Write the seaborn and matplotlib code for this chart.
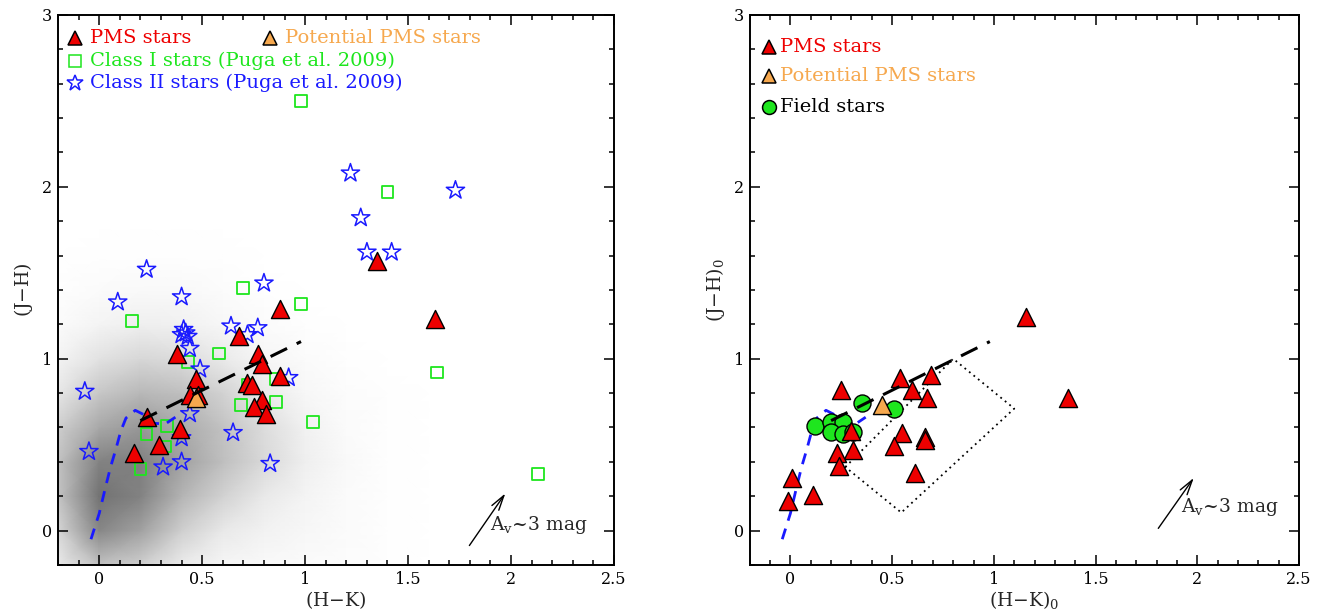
import matplotlib
matplotlib.use("Agg")
import matplotlib.pyplot as plt
import numpy as np
import seaborn as sns
from matplotlib.colors import LinearSegmentedColormap
from matplotlib.ticker import FuncFormatter, MultipleLocator

# ---- left panel: observed colours ----
pms_hk = [1.35, 1.63, 0.88, 0.68, 0.38, 0.77, 0.79, 0.47, 0.88, 0.72, 0.74, 0.44, 0.48, 0.79, 0.75, 0.81, 0.23, 0.39, 0.29, 0.17]
pms_jh = [1.57, 1.23, 1.29, 1.13, 1.03, 1.03, 0.97, 0.88, 0.90, 0.86, 0.85, 0.79, 0.79, 0.76, 0.72, 0.68, 0.66, 0.59, 0.50, 0.45]
pot_hk = [0.47]
pot_jh = [0.77]

class1_hk = [0.98, 1.40, 0.70, 0.98, 0.16, 0.58, 1.64, 2.13, 0.43, 0.86, 0.72, 0.86, 0.69, 1.04, 0.33, 0.23, 0.32, 0.20]
class1_jh = [2.50, 1.97, 1.41, 1.32, 1.22, 1.03, 0.92, 0.33, 0.98, 0.88, 0.85, 0.75, 0.73, 0.63, 0.61, 0.56, 0.49, 0.36]

class2_hk = [1.22, 1.73, 1.27, 1.30, 1.42, 0.23, 0.80, 0.09, 0.40, 0.64, 0.77, 0.41, 0.42, 0.40, 0.43, 0.44, 0.49, 0.92, 0.72,
             -0.07, 0.44, 0.65, 0.40, -0.05, 0.31, 0.40, 0.83]
class2_jh = [2.08, 1.98, 1.82, 1.62, 1.62, 1.52, 1.44, 1.33, 1.36, 1.19, 1.18, 1.17, 1.15, 1.14, 1.13, 1.06, 0.94, 0.89, 1.14,
             0.81, 0.68, 0.57, 0.54, 0.46, 0.37, 0.40, 0.39]

# background field population, eye-read density (rows: J-H, cols: H-K)
cloud_hk = [-0.2, 0.0, 0.2, 0.4, 0.6, 0.8, 1.0, 1.2, 1.4, 1.6]
cloud_jh = [-0.2, 0.0, 0.2, 0.4, 0.6, 0.8, 1.0, 1.2, 1.4, 1.6, 1.8]
cloud_density = [
    [0.12, 0.40, 0.30, 0.12, 0.06, 0.04, 0.03, 0.02, 0.01, 0.00],
    [0.25, 0.85, 0.65, 0.30, 0.14, 0.08, 0.05, 0.03, 0.01, 0.00],
    [0.38, 1.00, 0.88, 0.50, 0.28, 0.14, 0.07, 0.03, 0.01, 0.00],
    [0.40, 0.88, 0.90, 0.65, 0.42, 0.24, 0.10, 0.04, 0.01, 0.00],
    [0.30, 0.60, 0.72, 0.58, 0.40, 0.22, 0.09, 0.03, 0.01, 0.00],
    [0.15, 0.36, 0.48, 0.42, 0.28, 0.13, 0.05, 0.02, 0.01, 0.00],
    [0.07, 0.18, 0.25, 0.22, 0.13, 0.06, 0.03, 0.01, 0.00, 0.00],
    [0.03, 0.07, 0.10, 0.09, 0.05, 0.03, 0.01, 0.00, 0.00, 0.00],
    [0.01, 0.03, 0.04, 0.04, 0.02, 0.01, 0.00, 0.00, 0.00, 0.00],
    [0.00, 0.01, 0.01, 0.01, 0.01, 0.00, 0.00, 0.00, 0.00, 0.00],
    [0.00, 0.00, 0.00, 0.00, 0.00, 0.00, 0.00, 0.00, 0.00, 0.00],
]

# ---- right panel: dereddened colours ----
pms0_hk = [1.16, 1.365, 0.54, 0.69, 0.25, 0.60, 0.67, 0.30, 0.55, 0.66, 0.66, 0.51, 0.31, 0.23, 0.24, 0.61, 0.01, -0.01, 0.11]
pms0_jh = [1.24, 0.77, 0.89, 0.905, 0.82, 0.82, 0.77, 0.58, 0.57, 0.545, 0.525, 0.49, 0.47, 0.45, 0.375, 0.335, 0.305, 0.17, 0.205]
pot0_hk = [0.45]
pot0_jh = [0.73]
field_hk = [0.12, 0.20, 0.26, 0.20, 0.26, 0.31, 0.35, 0.51]
field_jh = [0.61, 0.63, 0.63, 0.575, 0.565, 0.575, 0.74, 0.705]

# reference loci
ctts_hk = [0.20, 0.98]
ctts_jh = [0.64, 1.10]
dwarf_hk = [-0.04, 0.0, 0.03, 0.055, 0.08, 0.105, 0.13, 0.175, 0.225, 0.26, 0.32, 0.37]
dwarf_jh = [-0.05, 0.10, 0.25, 0.37, 0.47, 0.58, 0.655, 0.70, 0.67, 0.625, 0.62, 0.66]
box_hk = [0.27, 0.80, 1.10, 0.545, 0.27]
box_jh = [0.37, 1.00, 0.71, 0.105, 0.37]

# reddening vectors (tail, head) and label anchor
av_left = [(1.79, -0.10), (1.98, 0.23), (1.90, 0.03)]
av_right = [(1.80, 0.00), (1.99, 0.32), (1.92, 0.135)]

RED = "#ee0000"
ORANGE = "#f6a84e"
GREEN = "#1ee61e"
BLUE = "#1a1aff"

sns.set_theme(style="ticks")
plt.rcParams["font.family"] = ["DejaVu Serif"]
plt.rcParams["mathtext.fontset"] = "dejavuserif"

fig = plt.figure(figsize=(13.25, 6.12), dpi=100)
ax1 = fig.add_axes([0.0438, 0.0768, 0.4196, 0.8987])
ax2 = fig.add_axes([0.5658, 0.0768, 0.4147, 0.8987])


def style_axes(ax, xlabel, ylabel):
    ax.set_xlim(-0.2, 2.5)
    ax.set_ylim(-0.2, 3)
    ax.xaxis.set_major_locator(MultipleLocator(0.5))
    ax.xaxis.set_minor_locator(MultipleLocator(0.1))
    ax.yaxis.set_major_locator(MultipleLocator(1))
    ax.yaxis.set_minor_locator(MultipleLocator(0.2))
    fmt = FuncFormatter(lambda v, p: f"{v:g}")
    ax.xaxis.set_major_formatter(fmt)
    ax.yaxis.set_major_formatter(fmt)
    ax.tick_params(which="both", direction="in", top=True, right=True, width=1.1, colors="black")
    ax.tick_params(which="major", length=7, labelsize=11.5, pad=4)
    ax.tick_params(which="minor", length=3.5)
    for spine in ax.spines.values():
        spine.set_linewidth(1.4)
        spine.set_color("black")
    ax.set_xlabel(xlabel, fontsize=13.5, labelpad=1)
    ax.set_ylabel(ylabel, fontsize=13.5, labelpad=5)


def legend_entry(ax, x, y, marker, face, edge, label, color, ms=10, dx=0.027):
    ax.plot([x], [y], marker=marker, ms=ms, mfc=face, mec=edge, mew=1.1, ls="none",
            transform=ax.transAxes, clip_on=False, zorder=6)
    ax.text(x + dx, y, label, color=color, fontsize=14, va="center", transform=ax.transAxes)


def reddening_arrow(ax, av):
    (x0, y0), (x1, y1), (tx, ty) = av
    ax.annotate("", xy=(x1, y1), xytext=(x0, y0),
                arrowprops=dict(arrowstyle="->,head_length=0.9,head_width=0.25", lw=1.0, color="black"))
    ax.text(tx, ty, r"A$_{\rm v}$~3 mag", fontsize=13.5, va="center", ha="left")


# ---- left panel ----
grid_x, grid_y = np.meshgrid(cloud_hk, cloud_jh)
cloud_cmap = LinearSegmentedColormap.from_list("cloud", [(0, "white"), (0.3, "#cfcfcf"), (1, "#737373")])
ax1.pcolormesh(grid_x, grid_y, np.array(cloud_density), shading="gouraud", cmap=cloud_cmap,
               vmin=0, vmax=1, zorder=0, rasterized=True)

ax1.scatter(class1_hk, class1_jh, marker="s", s=72, facecolors="none", edgecolors=GREEN, linewidths=1.3, zorder=2)
ax1.scatter(class2_hk, class2_jh, marker="*", s=190, facecolors="none", edgecolors=BLUE, linewidths=1.1, zorder=2)
ax1.plot(dwarf_hk, dwarf_jh, color=BLUE, lw=2.0, ls=(0, (4, 3)), zorder=3)
sns.scatterplot(x=pms_hk, y=pms_jh, marker="^", s=170, color=RED, edgecolor="black", linewidth=1.0, ax=ax1, zorder=4)
sns.scatterplot(x=pot_hk, y=pot_jh, marker="^", s=170, color=ORANGE, edgecolor="black", linewidth=1.0, ax=ax1, zorder=4)
ax1.plot(ctts_hk, ctts_jh, color="black", lw=2.2, ls=(0, (6, 3.5)), zorder=5)
reddening_arrow(ax1, av_left)

legend_entry(ax1, 0.031, 0.959, "^", RED, "black", "PMS stars", RED)
legend_entry(ax1, 0.381, 0.959, "^", ORANGE, "black", "Potential PMS stars", ORANGE)
legend_entry(ax1, 0.031, 0.916, "s", "none", GREEN, "Class I stars (Puga et al. 2009)", GREEN, ms=8)
legend_entry(ax1, 0.031, 0.876, "*", "none", BLUE, "Class II stars (Puga et al. 2009)", BLUE, ms=12)
style_axes(ax1, r"(H$-$K)", r"(J$-$H)")

# ---- right panel ----
ax2.plot(box_hk, box_jh, color="black", lw=1.3, ls=(0, (1, 2.2)), zorder=1)
ax2.plot(dwarf_hk, dwarf_jh, color=BLUE, lw=2.0, ls=(0, (4, 3)), zorder=2)
sns.scatterplot(x=field_hk, y=field_jh, marker="o", s=150, color=GREEN, edgecolor="black", linewidth=1.0, ax=ax2, zorder=3)
sns.scatterplot(x=pms0_hk, y=pms0_jh, marker="^", s=170, color=RED, edgecolor="black", linewidth=1.0, ax=ax2, zorder=4)
sns.scatterplot(x=pot0_hk, y=pot0_jh, marker="^", s=170, color=ORANGE, edgecolor="black", linewidth=1.0, ax=ax2, zorder=4)
ax2.plot(ctts_hk, ctts_jh, color="black", lw=2.2, ls=(0, (6, 3.5)), zorder=5)
reddening_arrow(ax2, av_right)

legend_entry(ax2, 0.035, 0.942, "^", RED, "black", "PMS stars", RED, dx=0.02)
legend_entry(ax2, 0.035, 0.889, "^", ORANGE, "black", "Potential PMS stars", ORANGE, dx=0.02)
legend_entry(ax2, 0.035, 0.833, "o", GREEN, "black", "Field stars", "black", dx=0.02)
style_axes(ax2, r"(H$-$K)$_0$", r"(J$-$H)$_0$")

fig.savefig("out.png", dpi=100)
